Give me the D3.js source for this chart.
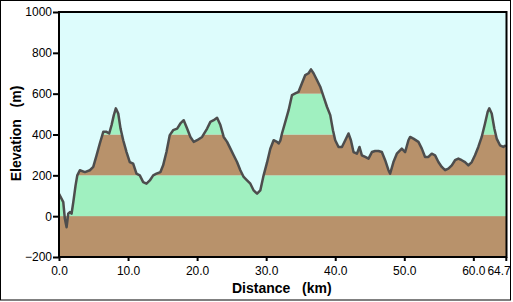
<!DOCTYPE html>
<html>
<head>
<meta charset="utf-8">
<script src="https://cdn.jsdelivr.net/npm/d3@7"></script>
<style>
  body { margin: 0; background: #fff; }
  svg { display: block; }
</style>
</head>
<body>
<div id="chart"></div>
<script>
// profile (km, m)
var dist = [0, 0.62, 0.85, 1.10, 1.34, 1.58, 1.82, 2.07, 2.40, 2.65, 3.02, 3.75, 4.47, 4.96, 5.44, 5.91,
  6.41, 6.88, 7.27, 7.61, 7.94, 8.23, 8.58, 8.91, 9.30, 9.78, 10.25, 10.74, 11.22, 11.70, 12.19, 12.67,
  13.15, 13.64, 14.11, 14.69, 15.08, 15.56, 16.04, 16.53, 17.11, 17.58, 18.06, 18.55, 19.03, 19.51,
  20.0, 20.72, 21.45, 21.92, 22.40, 22.89, 23.37, 23.85, 24.34, 24.82, 25.29, 25.78, 26.26, 26.74,
  27.23, 27.71, 28.19, 28.68, 29.15, 29.63, 30.12, 30.60, 31.08, 31.57, 31.80, 32.05, 32.29, 32.77,
  33.25, 33.74, 34.22, 34.69, 35.18, 35.66, 36.14, 36.49, 36.86, 37.35, 37.83, 38.31, 38.80, 39.28,
  39.67, 40.0, 40.48, 40.97, 41.45, 41.92, 42.27, 42.65, 43.14, 43.51, 43.86, 44.34, 44.82, 45.31,
  45.78, 46.26, 46.75, 47.23, 47.71, 47.95, 48.43, 48.92, 49.64, 50.12, 50.60, 50.85, 51.32, 52.05,
  52.54, 53.01, 53.49, 53.98, 54.46, 54.94, 55.43, 55.91, 56.38, 56.88, 57.35, 57.83, 58.32, 58.80,
  59.28, 59.77, 60.24, 60.72, 61.21, 61.69, 62.08, 62.31, 62.66, 63.04, 63.38, 63.86, 64.34, 64.7];
var elev = [110, 69, -13, -54, 12, 20, 12, 69, 151, 200, 225, 216, 225, 241, 298, 356,
  413, 413, 405, 446, 495, 528, 503, 429, 372, 314, 265, 257, 208, 200, 167, 159,
  175, 200, 208, 216, 249, 314, 397, 421, 429, 454, 470, 429, 388, 364,
  372, 388, 429, 462, 470, 482, 446, 388, 364, 331, 298, 265, 225, 192,
  175, 159, 126, 110, 126, 200, 262, 330, 372, 364, 356, 370, 405, 462,
  519, 593, 601, 609, 651, 691, 700, 719, 700, 667, 634, 585, 536, 495,
  421, 372, 339, 339, 372, 405, 372, 314, 306, 339, 298, 290, 282, 314,
  319, 319, 314, 274, 225, 208, 265, 306, 331, 314, 372, 388, 380, 364,
  331, 290, 290, 306, 298, 265, 241, 225, 233, 249, 274, 282, 274, 265,
  249, 265, 298, 339, 388, 454, 511, 528, 503, 429, 380, 347, 339, 347];

var yTicks = [-200, 0, 200, 400, 600, 800, 1000];
var xTicks = [0, 10, 20, 30, 40, 50, 60, 64.7];
var bandEdges = [-200, 0, 200, 400, 600, 800, 1000];
var bandColors = ['#b8926b', '#a0f0c0', '#b8926b', '#a0f0c0', '#b8926b', '#a0f0c0'];

var width = 513, height = 302;
var plotL = 59, plotR = 506.5, plotT = 12, plotB = 257;

var svg = d3.select('#chart').append('svg')
  .attr('width', width)
  .attr('height', height);

// outer frame
svg.append('rect')
  .attr('x', 0.5).attr('y', 0.5)
  .attr('width', 510).attr('height', 299.5)
  .attr('fill', '#fff')
  .attr('stroke', '#000');

var x = d3.scaleLinear().domain([0, 64.7]).range([plotL, 505.8]);
var y = d3.scaleLinear().domain([-200, 1000]).range([plotB, plotT]);

var pts = dist.map(function (d, i) { return [d, elev[i]]; });

// sky
svg.append('rect')
  .attr('x', plotL).attr('y', plotT)
  .attr('width', plotR - plotL).attr('height', plotB - plotT)
  .attr('fill', '#ddfcfc');

// clip to area under the profile
var area = d3.area()
  .x(function (d) { return x(d[0]); })
  .y0(y(-200))
  .y1(function (d) { return y(d[1]); });

svg.append('clipPath').attr('id', 'under')
  .append('path').attr('d', area(pts));

// lowest band is drawn everywhere
svg.append('rect')
  .attr('x', plotL).attr('y', y(0))
  .attr('width', plotR - plotL).attr('height', y(-200) - y(0))
  .attr('fill', bandColors[0]);

svg.append('g').attr('clip-path', 'url(#under)')
  .selectAll('rect')
  .data(d3.range(bandEdges.length - 1))
  .enter().append('rect')
  .attr('x', plotL)
  .attr('width', plotR - plotL)
  .attr('y', function (i) { return y(bandEdges[i + 1]); })
  .attr('height', function (i) { return y(bandEdges[i]) - y(bandEdges[i + 1]); })
  .attr('fill', function (i) { return bandColors[i]; });

var line = d3.line()
  .x(function (d) { return x(d[0]); })
  .y(function (d) { return y(d[1]); });

svg.append('path')
  .attr('d', line(pts))
  .attr('fill', 'none')
  .attr('stroke', '#4d4d4d')
  .attr('stroke-width', 2.5)
  .attr('stroke-linejoin', 'round');

// frame of plot
svg.append('rect')
  .attr('x', plotL).attr('y', plotT)
  .attr('width', plotR - plotL).attr('height', plotB - plotT)
  .attr('fill', 'none')
  .attr('stroke', '#000')
  .attr('stroke-width', 2);

var yAxis = svg.append('g')
  .attr('transform', 'translate(' + plotL + ',0)')
  .call(d3.axisLeft(y).tickValues(yTicks).tickSize(6).tickPadding(1)
    .tickFormat(d3.format('d')));

var xAxis = svg.append('g')
  .attr('transform', 'translate(0,' + plotB + ')')
  .call(d3.axisBottom(x).tickValues(xTicks).tickSize(4).tickPadding(5)
    .tickFormat(d3.format('.1f')));

[yAxis, xAxis].forEach(function (g) {
  g.select('.domain').remove();
  g.selectAll('.tick line').attr('stroke', '#000').attr('stroke-width', 2);
  g.selectAll('.tick text')
    .attr('fill', '#000')
    .style('font-family', '"Liberation Sans", Arial, sans-serif')
    .style('font-size', '12px');
});

// last distance label pushed inside the picture
xAxis.selectAll('.tick text')
  .filter(function (d) { return d === 64.7; })
  .attr('text-anchor', 'end')
  .attr('x', 4.5);

svg.append('text')
  .attr('x', 232).attr('y', 293)
  .style('white-space', 'pre')
  .style('font-family', '"Liberation Sans", Arial, sans-serif')
  .style('font-size', '14px')
  .style('font-weight', 'bold')
  .text('Distance   (km)');

svg.append('text')
  .attr('transform', 'translate(21,133.5) rotate(-90)')
  .attr('text-anchor', 'middle')
  .style('white-space', 'pre')
  .style('font-family', '"Liberation Sans", Arial, sans-serif')
  .style('font-size', '14px')
  .style('font-weight', 'bold')
  .text('Elevation   (m)');
</script>
</body>
</html>
